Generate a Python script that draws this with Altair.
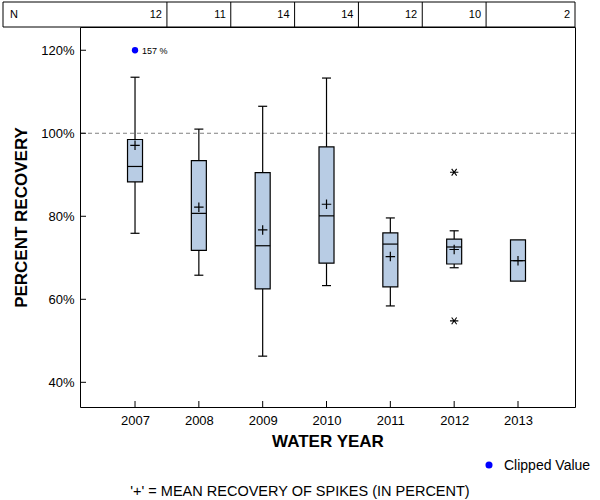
import altair as alt
import pandas as pd

# ---------------- data ----------------
years = [2007, 2008, 2009, 2010, 2011, 2012, 2013]
n_counts = [12, 11, 14, 14, 12, 10, 2]
whisker_low = [75.9, 65.8, 46.3, 63.3, 58.4, 67.6, None]
q1 = [88.3, 71.8, 62.5, 68.7, 63.0, 68.5, 64.4]
median = [92.0, 80.7, 72.9, 80.1, 73.3, 72.6, 69.3]
q3 = [98.5, 93.4, 90.5, 96.7, 76.0, 74.5, 74.3]
whisker_high = [113.5, 101.0, 106.5, 113.3, 79.6, 76.5, None]
mean_vals = [97.1, 82.2, 76.7, 82.9, 70.3, 72.0, 69.3]

outlier_years = [2012, 2012]
outlier_vals = [90.6, 54.8]

clipped_years = [2007]
clipped_plot_vals = [120]
clipped_labels = ["157 %"]

y_tick_vals = [40, 60, 80, 100, 120]
reference_line = [100]

X_MIN, X_MAX = 2006.138, 2013.893
Y_MIN, Y_MAX = 34.05, 125.6
cell_right = [2007.5, 2008.5, 2009.5, 2010.5, 2011.5, 2012.5, X_MAX]
cell_bounds = [2007.5, 2008.5, 2009.5, 2010.5, 2011.5, 2012.5]

FONT = "Liberation Sans"
BOX_FILL = "#B8CCE4"
W, H = 495, 380

df = pd.DataFrame({
    "year": years, "n": n_counts, "low": whisker_low, "q1": q1,
    "median": median, "q3": q3, "high": whisker_high, "mean": mean_vals,
    "right": cell_right,
})
out_df = pd.DataFrame({"year": outlier_years, "v": outlier_vals})
clip_df = pd.DataFrame({"year": clipped_years, "v": clipped_plot_vals, "label": clipped_labels})
ref_df = pd.DataFrame({"v": reference_line})
ytick_df = pd.DataFrame({"v": y_tick_vals})
bound_df = pd.DataFrame({"b": cell_bounds})
one = pd.DataFrame({"a": [0]})

xs = alt.Scale(domain=[X_MIN, X_MAX], nice=False, zero=False, padding=0)
ys = alt.Scale(domain=[Y_MIN, Y_MAX], nice=False, zero=False, padding=0)

x_axis = alt.Axis(values=years, format="d", domain=False, ticks=False, grid=False,
                  labelFontSize=13, labelFont=FONT, labelColor="black", labelPadding=7,
                  titleFont=FONT, titleFontSize=17, titleFontWeight="bold",
                  titleColor="black", titlePadding=6)
y_axis = alt.Axis(values=y_tick_vals, domain=False, ticks=False, grid=False,
                  labelExpr="datum.value + '%'",
                  labelFontSize=13, labelFont=FONT, labelColor="black", labelPadding=6,
                  titleFont=FONT, titleFontSize=17, titleFontWeight="bold",
                  titleColor="black", titlePadding=10)

def X(field):
    return alt.X(field, type="quantitative", scale=xs, axis=x_axis, title="WATER YEAR")

def Y(field):
    return alt.Y(field, type="quantitative", scale=ys, axis=y_axis, title="PERCENT RECOVERY")

base = alt.Chart(df)

ref = alt.Chart(ref_df).mark_rule(color="#808080", strokeDash=[4, 3], strokeWidth=1).encode(
    y=Y("v:Q"))

whisk_lo = base.transform_filter("datum.low != null").mark_rule(color="black", strokeWidth=1.2).encode(
    x=X("year:Q"), y=Y("low:Q"), y2="q1:Q")
whisk_hi = base.transform_filter("datum.high != null").mark_rule(color="black", strokeWidth=1.2).encode(
    x=X("year:Q"), y=Y("q3:Q"), y2="high:Q")
cap_lo = base.transform_filter("datum.low != null").mark_tick(
    orient="horizontal", size=9, thickness=1.2, color="black", opacity=1).encode(
    x=X("year:Q"), y=Y("low:Q"))
cap_hi = base.transform_filter("datum.high != null").mark_tick(
    orient="horizontal", size=9, thickness=1.2, color="black", opacity=1).encode(
    x=X("year:Q"), y=Y("high:Q"))

box = base.mark_bar(size=15, fill=BOX_FILL, stroke="black", strokeWidth=1.2).encode(
    x=X("year:Q"), y=Y("q3:Q"), y2="q1:Q")

med = base.mark_tick(orient="horizontal", size=15, thickness=1.2, color="black", opacity=1).encode(
    x=X("year:Q"), y=Y("median:Q"))

mean_pt = base.mark_point(shape="M-1,0L1,0M0,-1L0,1", size=90, filled=False,
                          stroke="black", strokeWidth=1.2, opacity=1).encode(
    x=X("year:Q"), y=Y("mean:Q"))

outl = alt.Chart(out_df).mark_point(
    shape="M-1,0L1,0M-0.6,-0.8L0.6,0.8M-0.6,0.8L0.6,-0.8", size=70, filled=False,
    stroke="black", strokeWidth=1.1, opacity=1).encode(
    x=X("year:Q"), y=Y("v:Q"))

clip_pt = alt.Chart(clip_df).mark_point(shape="circle", size=40, filled=True,
                                        color="#0000FF", opacity=1).encode(
    x=X("year:Q"), y=Y("v:Q"))
clip_txt = alt.Chart(clip_df).mark_text(align="left", baseline="middle", dx=7, dy=1,
                                        font=FONT, fontSize=9, color="black").encode(
    x=X("year:Q"), y=Y("v:Q"), text="label:N")

# inward ticks
xticks = base.mark_tick(orient="vertical", size=6, thickness=1, color="black", opacity=1).encode(
    x=X("year:Q"), y=alt.value(H - 3))
yticks = alt.Chart(ytick_df).mark_tick(orient="horizontal", size=6, thickness=1, color="black", opacity=1).encode(
    x=alt.value(3), y=Y("v:Q"))

# N table
table_box = alt.Chart(one).mark_rect(fill=None, stroke="black", strokeWidth=1).encode(
    x=alt.value(-77), x2=alt.value(W), y=alt.value(-25), y2=alt.value(0))
table_lines = alt.Chart(bound_df).mark_rule(color="black", strokeWidth=1).encode(
    x=X("b:Q"), y=alt.value(-25), y2=alt.value(0))
table_n = base.mark_text(align="right", baseline="middle", dx=-5, font=FONT, fontSize=11,
                         color="black").encode(
    x=X("right:Q"), y=alt.value(-12), text="n:Q")
table_lbl = alt.Chart(one).mark_text(align="left", baseline="middle", font=FONT, fontSize=11,
                                     color="black", text="N").encode(
    x=alt.value(-70), y=alt.value(-12))

# legend and footer
leg_dot = alt.Chart(one).mark_point(shape="circle", size=50, filled=True, color="#0000FF", opacity=1).encode(
    x=alt.value(409), y=alt.value(438))
leg_txt = alt.Chart(one).mark_text(align="left", baseline="middle", font=FONT, fontSize=14,
                                   color="black", text="Clipped Value").encode(
    x=alt.value(424), y=alt.value(439))
footer = alt.Chart(one).mark_text(align="center", baseline="middle", font=FONT, fontSize=14.5,
                                  color="black", text="'+' = MEAN RECOVERY OF SPIKES (IN PERCENT)").encode(
    x=alt.value(220), y=alt.value(465))

chart = alt.layer(
    ref, whisk_lo, whisk_hi, cap_lo, cap_hi, box, med, mean_pt, outl, clip_pt, clip_txt,
    xticks, yticks, table_box, table_lines, table_n, table_lbl, leg_dot, leg_txt, footer
).properties(
    width=W, height=H,
    padding={"left": 80, "top": 27, "right": 25, "bottom": 93},
    autosize=alt.AutoSizeParams(type="none"),
    background="white",
).configure_view(stroke="black", strokeWidth=1)

chart.save("out.html", embed_options={"renderer": "svg", "actions": False})
